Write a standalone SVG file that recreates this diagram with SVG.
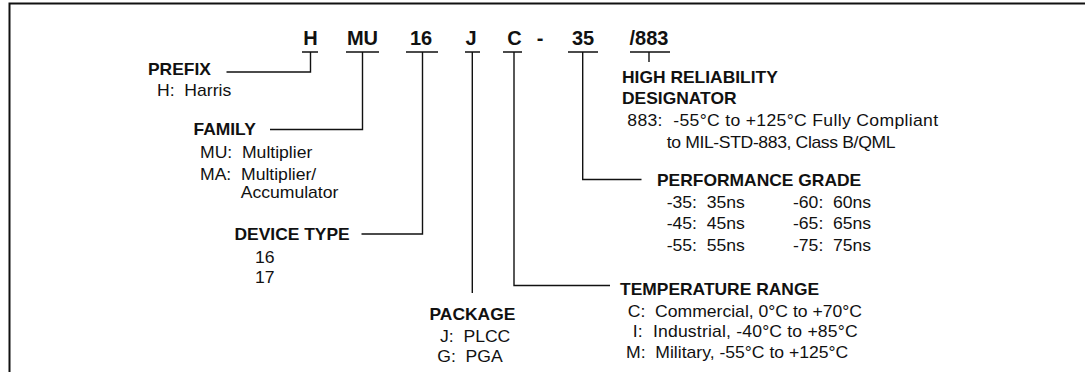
<svg xmlns="http://www.w3.org/2000/svg" width="1085" height="372" viewBox="0 0 1085 372">
<style>
text{font-family:"Liberation Sans",Arial,Helvetica,sans-serif;fill:#111;white-space:pre}
.code{font-size:20px;font-weight:bold;text-anchor:middle}
.h{font-size:16px;font-weight:bold;transform-box:fill-box;transform-origin:0 0;transform:scaleX(1.09)}
.r{font-size:16px;transform-box:fill-box;transform-origin:0 0;transform:scaleX(1.1)}
.ln{stroke:#111;stroke-width:1.4;fill:none}
.frame{stroke:#111;stroke-width:2;fill:none}
</style>
<rect width="1085" height="372" fill="#fff"/>
<path class="frame" d="M9.5,372 V3.5 H1085"/>
<g id="code">
<text class="code" x="310.5" y="44.5">H</text>
<text class="code" x="362.5" y="44.5">MU</text>
<text class="code" x="421" y="44.5">16</text>
<text class="code" x="471" y="44.5">J</text>
<text class="code" x="514.5" y="44.5">C</text>
<text class="code" x="540" y="44.5">-</text>
<text class="code" x="583" y="44.5">35</text>
<text class="code" x="649" y="44.5">/883</text>
</g>
<g id="connectors">
<path class="ln" d="M302,52 H318 M346,52 H379 M406,52 H438 M465,52 H480 M503,52 H522 M568,52 H598 M630,52 H670"/>
<path class="ln" d="M226.5,72 H310.5 V52"/>
<path class="ln" d="M270,129.5 H362.5 V52"/>
<path class="ln" d="M361.5,234 H422.5 V52"/>
<path class="ln" d="M472.3,52 V293"/>
<path class="ln" d="M514,52 V285.5 H610"/>
<path class="ln" d="M582.7,52 V179.5 H641.5"/>
<path class="ln" d="M649,52 V62"/>
</g>
<g id="prefix">
<text class="h" x="148" y="75">PREFIX</text>
<text class="r" x="157" y="96.5">H:  Harris</text>
</g>
<g id="family">
<text class="h" x="193.5" y="135">FAMILY</text>
<text class="r" x="200" y="158.3">MU:  Multiplier</text>
<text class="r" x="200" y="180">MA:  Multiplier/</text>
<text class="r" x="240.7" y="198.5">Accumulator</text>
</g>
<g id="device-type">
<text class="h" x="234.5" y="240.5">DEVICE TYPE</text>
<text class="r" x="255" y="263.3">16</text>
<text class="r" x="255" y="283.5">17</text>
</g>
<g id="package">
<text class="h" x="429.5" y="320">PACKAGE</text>
<text class="r" x="440" y="341.7">J:  PLCC</text>
<text class="r" x="437.3" y="361.7">G:  PGA</text>
</g>
<g id="temperature-range">
<text class="h" x="620" y="295">TEMPERATURE RANGE</text>
<text class="r" x="627.7" y="316.7">C:  Commercial, 0°C to +70°C</text>
<text class="r" x="632.7" y="337" textLength="204.5">I:  Industrial, -40°C to +85°C</text>
<text class="r" x="626" y="358.3">M:  Military, -55°C to +125°C</text>
</g>
<g id="performance-grade">
<text class="h" x="657" y="186.5">PERFORMANCE GRADE</text>
<text class="r" x="666.7" y="208.5">-35:  35ns</text>
<text class="r" x="666.7" y="229.5">-45:  45ns</text>
<text class="r" x="666.7" y="251">-55:  55ns</text>
<text class="r" x="793" y="208.5">-60:  60ns</text>
<text class="r" x="793" y="229.5">-65:  65ns</text>
<text class="r" x="793" y="251">-75:  75ns</text>
</g>
<g id="high-reliability">
<text class="h" x="622" y="83">HIGH RELIABILITY</text>
<text class="h" x="622" y="104.5">DESIGNATOR</text>
<text class="r" x="627.3" y="126.5" textLength="282.5">883:  -55°C to +125°C Fully Compliant</text>
<text class="r" x="666.7" y="148" textLength="208">to MIL-STD-883, Class B/QML</text>
</g>
</svg>
